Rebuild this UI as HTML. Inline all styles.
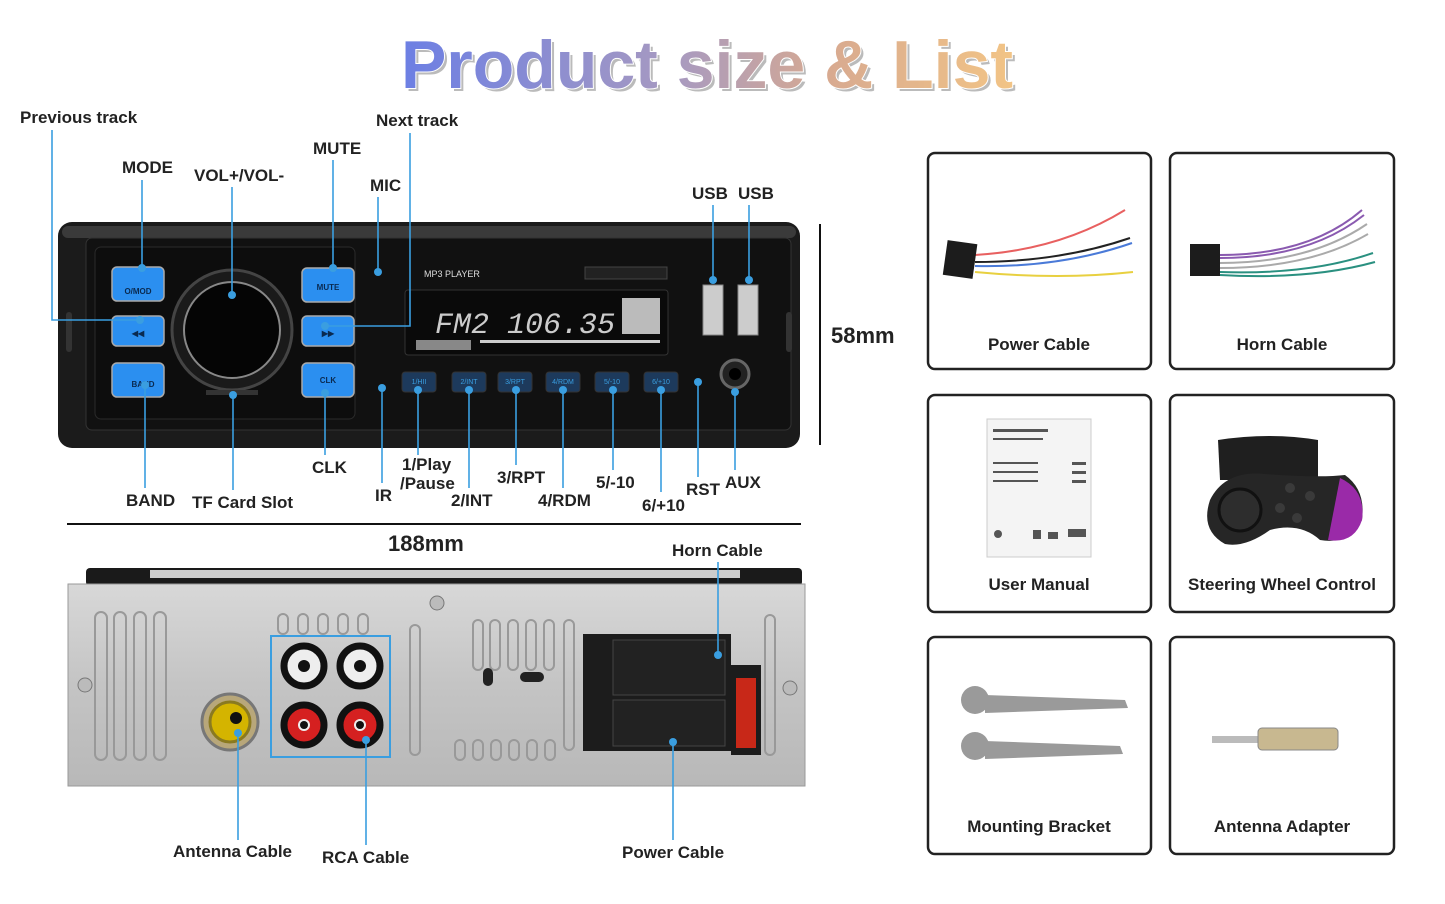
<!DOCTYPE html>
<html><head><meta charset="utf-8"><style>
html,body{margin:0;padding:0;background:#fff;}
svg{display:block;}
.l{font-family:"Liberation Sans",sans-serif;font-weight:bold;font-size:17px;fill:#222;}
.c{font-family:"Liberation Sans",sans-serif;font-weight:bold;font-size:17px;fill:#222;text-anchor:middle;}
.ln{stroke:#3a9ee0;stroke-width:1.6;fill:none;}
.dt{fill:#3a9ee0;}
.box{fill:#fff;stroke:#222;stroke-width:2.5;}
</style></head><body>
<svg width="1445" height="904" viewBox="0 0 1445 904" xmlns="http://www.w3.org/2000/svg">
<defs>
<linearGradient id="tg" x1="0" x2="1" y1="0" y2="0">
<stop offset="0" stop-color="#6c7fe4"/><stop offset="0.45" stop-color="#a89ac0"/><stop offset="0.7" stop-color="#d8aa90"/><stop offset="1" stop-color="#f2c486"/>
</linearGradient>
<linearGradient id="sil" x1="0" x2="0" y1="0" y2="1"><stop offset="0" stop-color="#d8d8d8"/><stop offset="0.5" stop-color="#c4c4c4"/><stop offset="1" stop-color="#b8b8b8"/></linearGradient>
</defs>
<!-- Title -->
<text x="707" y="88" text-anchor="middle" font-family="Liberation Sans,sans-serif" font-weight="bold" font-size="68" fill="#bbb" transform="translate(3,3)">Product size &amp; List</text>
<text x="707" y="88" text-anchor="middle" font-family="Liberation Sans,sans-serif" font-weight="bold" font-size="68" fill="url(#tg)" stroke="#fff" stroke-width="2" paint-order="stroke">Product size &amp; List</text>

<!-- Front unit -->
<rect x="58" y="222" width="742" height="226" rx="14" fill="#1b1b1b"/>
<rect x="62" y="226" width="734" height="12" rx="6" fill="#3a3a3a"/>
<rect x="86" y="238" width="705" height="192" rx="6" fill="#111" stroke="#333"/>
<rect x="95" y="247" width="260" height="172" rx="6" fill="#0d0d0d" stroke="#2a2a2a"/>
<circle cx="232" cy="330" r="60" fill="#1a1a1a" stroke="#444" stroke-width="3"/>
<circle cx="232" cy="330" r="48" fill="#050505" stroke="#888" stroke-width="2"/>
<g fill="#2b8ff0" stroke="#aaa" stroke-width="1.5">
<rect x="112" y="267" width="52" height="34" rx="5"/>
<rect x="112" y="316" width="52" height="30" rx="5"/>
<rect x="112" y="363" width="52" height="34" rx="5"/>
<rect x="302" y="268" width="52" height="34" rx="5"/>
<rect x="302" y="316" width="52" height="30" rx="5"/>
<rect x="302" y="363" width="52" height="34" rx="5"/>
</g>
<g font-family="Liberation Sans,sans-serif" font-size="8" fill="#0a2a50" font-weight="bold" text-anchor="middle">
<text x="138" y="294">O/MOD</text><text x="138" y="336">◀◀</text><text x="143" y="387">BAND</text>
<text x="328" y="290">MUTE</text><text x="328" y="336">▶▶</text><text x="328" y="383">CLK</text>
</g>
<rect x="206" y="390" width="52" height="5" fill="#333"/>
<text x="424" y="277" font-family="Liberation Sans,sans-serif" font-size="9" fill="#ddd">MP3 PLAYER</text>
<rect x="585" y="267" width="82" height="12" fill="#222" stroke="#444"/>
<rect x="405" y="290" width="263" height="65" rx="3" fill="#0a0a0a" stroke="#333"/>
<text x="435" y="333" font-family="Liberation Mono,monospace" font-size="30" fill="#ccc" font-style="italic">FM2 106.35</text>
<rect x="622" y="298" width="38" height="36" fill="#bbb"/>
<rect x="416" y="340" width="55" height="10" fill="#888"/>
<rect x="480" y="340" width="180" height="3" fill="#ccc"/>
<rect x="703" y="285" width="20" height="50" fill="#ccc" stroke="#888"/>
<rect x="738" y="285" width="20" height="50" fill="#ccc" stroke="#888"/>
<circle cx="735" cy="374" r="14" fill="#222" stroke="#666" stroke-width="3"/>
<circle cx="735" cy="374" r="6" fill="#000"/>
<g fill="#1d3a5c" stroke="#333">
<rect x="402" y="372" width="34" height="20" rx="3"/><rect x="452" y="372" width="34" height="20" rx="3"/>
<rect x="498" y="372" width="34" height="20" rx="3"/><rect x="546" y="372" width="34" height="20" rx="3"/>
<rect x="595" y="372" width="34" height="20" rx="3"/><rect x="644" y="372" width="34" height="20" rx="3"/>
</g>
<g font-family="Liberation Sans,sans-serif" font-size="7" fill="#3a9ee0" text-anchor="middle">
<text x="419" y="384">1/HII</text><text x="469" y="384">2/INT</text><text x="515" y="384">3/RPT</text><text x="563" y="384">4/RDM</text><text x="612" y="384">5/-10</text><text x="661" y="384">6/+10</text>
</g>
<rect x="66" y="312" width="6" height="40" rx="3" fill="#333"/><rect x="786" y="312" width="6" height="40" rx="3" fill="#333"/>

<!-- front leader lines -->
<path class="ln" d="M52 130 V320 H140 M142 180 V268 M232 187 V295 M333 160 V268 M378 197 V272 M410 133 V326 H325 M713 205 V280 M749 205 V280
M145 385 V488 M233 395 V490 M325 393 V455 M382 388 V483 M418 390 V455 M469 390 V488 M516 390 V465 M563 390 V488 M613 390 V470 M661 390 V492 M698 382 V477 M735 392 V470"/>
<g class="dt">
<circle cx="140" cy="320" r="4"/><circle cx="142" cy="268" r="4"/><circle cx="232" cy="295" r="4"/><circle cx="333" cy="268" r="4"/><circle cx="378" cy="272" r="4"/><circle cx="325" cy="326" r="4"/><circle cx="713" cy="280" r="4"/><circle cx="749" cy="280" r="4"/>
<circle cx="145" cy="385" r="4"/><circle cx="233" cy="395" r="4"/><circle cx="325" cy="393" r="4"/><circle cx="382" cy="388" r="4"/><circle cx="418" cy="390" r="4"/><circle cx="469" cy="390" r="4"/><circle cx="516" cy="390" r="4"/><circle cx="563" cy="390" r="4"/><circle cx="613" cy="390" r="4"/><circle cx="661" cy="390" r="4"/><circle cx="698" cy="382" r="4"/><circle cx="735" cy="392" r="4"/>
</g>
<text class="l" x="20" y="123">Previous track</text>
<text class="l" x="122" y="173">MODE</text>
<text class="l" x="194" y="181">VOL+/VOL-</text>
<text class="l" x="313" y="154">MUTE</text>
<text class="l" x="370" y="191">MIC</text>
<text class="l" x="376" y="126">Next track</text>
<text class="l" x="692" y="199">USB</text><text class="l" x="738" y="199">USB</text>
<text class="l" x="126" y="506">BAND</text>
<text class="l" x="192" y="508">TF Card Slot</text>
<text class="l" x="312" y="473">CLK</text>
<text class="l" x="375" y="501">IR</text>
<text class="l" x="402" y="470">1/Play</text><text class="l" x="400" y="489">/Pause</text>
<text class="l" x="451" y="506">2/INT</text>
<text class="l" x="497" y="483">3/RPT</text>
<text class="l" x="538" y="506">4/RDM</text>
<text class="l" x="596" y="488">5/-10</text>
<text class="l" x="642" y="511">6/+10</text>
<text class="l" x="686" y="495">RST</text>
<text class="l" x="725" y="488">AUX</text>

<line x1="820" y1="224" x2="820" y2="445" stroke="#111" stroke-width="2"/>
<text x="831" y="343" font-family="Liberation Sans,sans-serif" font-weight="bold" font-size="22" fill="#222">58mm</text>
<line x1="67" y1="524" x2="801" y2="524" stroke="#111" stroke-width="2"/>
<text x="388" y="551" font-family="Liberation Sans,sans-serif" font-weight="bold" font-size="22" fill="#222">188mm</text>

<!-- Rear unit -->
<rect x="86" y="568" width="716" height="18" rx="4" fill="#1a1a1a"/>
<rect x="150" y="570" width="590" height="8" fill="#ccc"/>
<rect x="68" y="584" width="737" height="202" fill="url(#sil)" stroke="#999"/>
<g fill="none" stroke="#999" stroke-width="2">
<rect x="95" y="612" width="12" height="148" rx="6"/><rect x="114" y="612" width="12" height="148" rx="6"/><rect x="134" y="612" width="12" height="148" rx="6"/><rect x="154" y="612" width="12" height="148" rx="6"/>
<rect x="278" y="614" width="10" height="20" rx="5"/><rect x="298" y="614" width="10" height="20" rx="5"/><rect x="318" y="614" width="10" height="20" rx="5"/><rect x="338" y="614" width="10" height="20" rx="5"/><rect x="358" y="614" width="10" height="20" rx="5"/>
<rect x="473" y="620" width="10" height="50" rx="5"/><rect x="490" y="620" width="10" height="50" rx="5"/><rect x="508" y="620" width="10" height="50" rx="5"/><rect x="526" y="620" width="10" height="50" rx="5"/><rect x="544" y="620" width="10" height="50" rx="5"/><rect x="564" y="620" width="10" height="130" rx="5"/>
<rect x="455" y="740" width="10" height="20" rx="5"/><rect x="473" y="740" width="10" height="20" rx="5"/><rect x="491" y="740" width="10" height="20" rx="5"/><rect x="509" y="740" width="10" height="20" rx="5"/><rect x="527" y="740" width="10" height="20" rx="5"/><rect x="545" y="740" width="10" height="20" rx="5"/>
<rect x="765" y="615" width="10" height="140" rx="5"/><rect x="410" y="625" width="10" height="130" rx="5"/>
</g>
<circle cx="85" cy="685" r="7" fill="#bbb" stroke="#777"/><circle cx="790" cy="688" r="7" fill="#bbb" stroke="#777"/>
<circle cx="437" cy="603" r="7" fill="#bbb" stroke="#777"/>
<circle cx="230" cy="722" r="28" fill="#b8a77a" stroke="#777" stroke-width="3"/>
<circle cx="230" cy="722" r="20" fill="#d4b400" stroke="#8a7a20" stroke-width="3"/>
<circle cx="236" cy="718" r="6" fill="#111"/>
<rect x="271" y="636" width="119" height="121" fill="none" stroke="#3a9ee0" stroke-width="2"/>
<g stroke="#111" stroke-width="7">
<circle cx="304" cy="666" r="20" fill="#eee"/><circle cx="360" cy="666" r="20" fill="#eee"/>
<circle cx="304" cy="725" r="20" fill="#d52020"/><circle cx="360" cy="725" r="20" fill="#d52020"/>
</g>
<g fill="#111"><circle cx="304" cy="666" r="6"/><circle cx="360" cy="666" r="6"/><circle cx="304" cy="725" r="6" fill="#eee"/><circle cx="360" cy="725" r="6" fill="#eee"/></g>
<circle cx="304" cy="725" r="4" fill="#111"/><circle cx="360" cy="725" r="4" fill="#111"/>
<rect x="583" y="634" width="148" height="117" fill="#1c1c1c"/>
<rect x="613" y="640" width="112" height="55" fill="#222" stroke="#444"/>
<rect x="613" y="700" width="112" height="46" fill="#222" stroke="#444"/>
<rect x="731" y="665" width="30" height="90" fill="#1c1c1c"/>
<rect x="736" y="678" width="20" height="70" fill="#c82818"/>
<rect x="483" y="668" width="10" height="18" rx="5" fill="#222"/><rect x="520" y="672" width="24" height="10" rx="5" fill="#222"/>
<path class="ln" d="M718 562 V655 M238 733 V840 M366 740 V845 M673 742 V840"/>
<g class="dt"><circle cx="718" cy="655" r="4"/><circle cx="238" cy="733" r="4"/><circle cx="366" cy="740" r="4"/><circle cx="673" cy="742" r="4"/></g>
<text class="l" x="672" y="556">Horn Cable</text>
<text class="l" x="173" y="857">Antenna Cable</text>
<text class="l" x="322" y="863">RCA Cable</text>
<text class="l" x="622" y="858">Power Cable</text>

<!-- Right boxes -->
<rect class="box" x="928" y="153" width="223" height="216" rx="7"/>
<rect class="box" x="1170" y="153" width="224" height="216" rx="7"/>
<rect class="box" x="928" y="395" width="223" height="217" rx="7"/>
<rect class="box" x="1170" y="395" width="224" height="217" rx="7"/>
<rect class="box" x="928" y="637" width="223" height="217" rx="7"/>
<rect class="box" x="1170" y="637" width="224" height="217" rx="7"/>
<text class="c" x="1039" y="350">Power Cable</text>
<text class="c" x="1282" y="350">Horn Cable</text>
<text class="c" x="1039" y="590">User Manual</text>
<text class="c" x="1282" y="590">Steering Wheel Control</text>
<text class="c" x="1039" y="832">Mounting Bracket</text>
<text class="c" x="1282" y="832">Antenna Adapter</text>

<!-- power cable img -->
<g fill="none" stroke-width="2">
<path d="M975 255 Q1060 250 1125 210" stroke="#e86060"/>
<path d="M975 262 Q1060 262 1130 238" stroke="#222"/>
<path d="M975 266 Q1060 268 1132 243" stroke="#4a7ad8"/>
<path d="M975 272 Q1060 280 1133 272" stroke="#e8d040"/>
</g>
<rect x="945" y="242" width="30" height="35" fill="#1c1c1c" transform="rotate(8 960 260)"/>
<!-- horn cable -->
<g fill="none" stroke-width="2">
<path d="M1220 255 Q1310 255 1362 210" stroke="#8a5ab0"/>
<path d="M1220 258 Q1310 258 1364 215" stroke="#8a5ab0"/>
<path d="M1220 263 Q1310 263 1367 224" stroke="#aaa"/>
<path d="M1220 268 Q1310 268 1368 234" stroke="#aaa"/>
<path d="M1220 272 Q1310 275 1373 253" stroke="#2a9080"/>
<path d="M1220 275 Q1310 280 1375 262" stroke="#2a9080"/>
</g>
<rect x="1190" y="244" width="30" height="32" fill="#1c1c1c"/>
<!-- manual -->
<rect x="987" y="419" width="104" height="138" fill="#f4f4f4" stroke="#ccc"/>
<g fill="#555"><rect x="993" y="429" width="55" height="3"/><rect x="993" y="438" width="50" height="2"/><rect x="993" y="462" width="45" height="2"/><rect x="993" y="471" width="45" height="2"/><rect x="993" y="480" width="45" height="2"/><rect x="1072" y="462" width="14" height="3"/><rect x="1072" y="471" width="14" height="3"/><rect x="1072" y="480" width="14" height="3"/><circle cx="998" cy="534" r="4"/><rect x="1033" y="530" width="8" height="9"/><rect x="1048" y="532" width="10" height="7"/><rect x="1068" y="529" width="18" height="8"/></g>
<!-- steering remote -->
<path d="M1218 440 Q1270 432 1318 440 L1318 480 L1220 480 Z" fill="#1f1f1f"/>
<path d="M1210 500 Q1225 470 1265 474 Q1320 478 1345 475 Q1366 490 1362 520 Q1350 545 1320 540 Q1300 522 1270 530 Q1245 548 1225 544 Q1200 530 1210 500 Z" fill="#262626"/>
<path d="M1340 478 Q1366 490 1362 520 Q1354 544 1328 540 Z" fill="#9a2aa8"/>
<circle cx="1240" cy="510" r="21" fill="#2d2d2d" stroke="#111" stroke-width="3"/>
<g fill="#3a3a3a"><circle cx="1290" cy="488" r="5"/><circle cx="1310" cy="496" r="5"/><circle cx="1280" cy="508" r="5"/><circle cx="1297" cy="518" r="5"/></g>
<!-- brackets -->
<g fill="#9a9a9a">
<circle cx="975" cy="700" r="14"/><path d="M985 695 L1125 700 L1128 708 L985 713 Z"/>
<circle cx="975" cy="746" r="14"/><path d="M985 741 L1120 746 L1123 754 L985 759 Z"/>
</g>
<!-- antenna adapter -->
<rect x="1212" y="736" width="50" height="7" fill="#bbb"/>
<rect x="1258" y="728" width="80" height="22" rx="4" fill="#c8b890" stroke="#888"/>
</svg>
</body></html>
